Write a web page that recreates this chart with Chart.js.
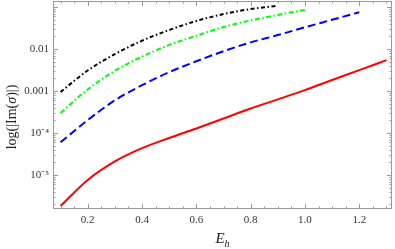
<!DOCTYPE html>
<html>
<head>
<meta charset="utf-8">
<script src="https://cdn.jsdelivr.net/npm/chart.js@4/dist/chart.umd.min.js"></script>
<style>
  html, body { margin: 0; padding: 0; background: #fff; }
  #wrap { width: 395px; height: 249px; }
</style>
</head>
<body>
<div id="wrap"><canvas id="chart"></canvas></div>
<script>
// values (E_h on x, |Im(sigma)| on a log y axis)
const eBlack = [0.1, 0.2, 0.3, 0.4, 0.5, 0.6, 0.7, 0.8, 0.9];
const imBlack = [9.55e-4, 3.09e-3, 7.59e-3, 0.01585, 0.0285, 0.0468, 0.0684, 0.0902, 0.108];

const eGreen = [0.1, 0.2, 0.3, 0.4, 0.5, 0.6, 0.7, 0.8, 0.9, 1.0];
const imGreen = [3.02e-4, 1.096e-3, 3.05e-3, 6.61e-3, 0.01259, 0.0209, 0.0335, 0.0484, 0.0653, 0.0861];

const eBlue = [0.1, 0.2, 0.3, 0.4, 0.5, 0.6, 0.7, 0.8, 0.9, 1.0, 1.1, 1.2];
const imBlue = [6.03e-5, 2.04e-4, 6.03e-4, 1.38e-3, 2.82e-3, 5.13e-3, 8.91e-3, 0.01445, 0.0216, 0.0331, 0.0501, 0.0759];

const eRed = [0.1, 0.2, 0.3, 0.4, 0.5, 0.6, 0.7, 0.8, 0.9, 1.0, 1.1, 1.2, 1.3];
const imRed = [1.83e-6, 7.66e-6, 2.12e-5, 4.39e-5, 7.66e-5, 1.29e-4, 2.23e-4, 3.85e-4, 6.35e-4, 1.057e-3, 1.84e-3, 3.15e-3, 5.48e-3];

const xTicks = [0.2, 0.4, 0.6, 0.8, 1.0, 1.2];
const yTicks = [1e-5, 1e-4, 1e-3, 1e-2];
const yTickLabels = ['10\u207B\u2075', '10\u207B\u2074', '0.001', '0.01'];

const pts = (xs, ys) => xs.map((x, i) => ({ x: x, y: ys[i] }));

// frame with inward ticks on all four sides + axis titles (Mathematica look)
const framePlugin = {
    id: 'frame',
    afterDraw(chart) {
        const ctx = chart.ctx;
        const a = chart.chartArea;
        const xs = chart.scales.x;
        const ys = chart.scales.y;
        ctx.save();
        ctx.strokeStyle = '#9a9a9a';
        ctx.lineWidth = 1;
        ctx.strokeRect(a.left + 0.5, a.top + 0.5, a.right - a.left - 1, a.bottom - a.top - 1);

        ctx.beginPath();
        // x ticks: major every 0.2, minor every 0.05
        for (let k = 2; k <= 26; k++) {
            const v = k * 0.05;
            const px = Math.round(xs.getPixelForValue(v)) + 0.5;
            if (px < a.left || px > a.right) continue;
            const len = (k % 4 === 0) ? 5 : 2.5;
            ctx.moveTo(px, a.bottom);
            ctx.lineTo(px, a.bottom - len);
            ctx.moveTo(px, a.top);
            ctx.lineTo(px, a.top + len);
        }
        // y ticks: major at decades, minor at 2..9
        for (let d = -6; d <= -1; d++) {
            for (let m = 1; m <= 9; m++) {
                const v = m * Math.pow(10, d);
                const py = Math.round(ys.getPixelForValue(v)) + 0.5;
                if (py < a.top || py > a.bottom) continue;
                const len = (m === 1) ? 5 : 2.5;
                ctx.moveTo(a.left, py);
                ctx.lineTo(a.left + len, py);
                ctx.moveTo(a.right, py);
                ctx.lineTo(a.right - len, py);
            }
        }
        ctx.stroke();

        // y title: log(|Im(σ)|) with italic sigma
        ctx.fillStyle = '#222';
        ctx.textBaseline = 'middle';
        const parts = [
            ['log(|Im(', '14px "Liberation Serif"'],
            ['\u03C3', 'italic 14px "Liberation Serif"'],
            [')|)', '14px "Liberation Serif"']
        ];
        let total = 0;
        parts.forEach(p => { ctx.font = p[1]; total += ctx.measureText(p[0]).width; });
        ctx.save();
        ctx.translate(12, 117);
        ctx.rotate(-Math.PI / 2);
        let x0 = -total / 2;
        ctx.textAlign = 'left';
        parts.forEach(p => {
            ctx.font = p[1];
            ctx.fillText(p[0], x0, 0);
            x0 += ctx.measureText(p[0]).width;
        });
        ctx.restore();

        // x title: E_h
        const cx = (a.left + a.right) / 2;
        ctx.textAlign = 'left';
        ctx.font = 'italic 15px "Liberation Serif"';
        const wE = ctx.measureText('E').width;
        ctx.font = 'italic 10px "Liberation Serif"';
        const wH = ctx.measureText('h').width;
        const sx = cx - (wE + wH) / 2;
        ctx.font = 'italic 15px "Liberation Serif"';
        ctx.fillText('E', sx, 239);
        ctx.font = 'italic 10px "Liberation Serif"';
        ctx.fillText('h', sx + wE, 244);
        ctx.restore();
    }
};

const ctx = document.getElementById('chart').getContext('2d');
const chart = new Chart(ctx, {
    type: 'line',
    data: {
        datasets: [
            {
                data: pts(eBlack, imBlack),
                borderColor: '#000000',
                borderWidth: 2,
                borderDash: [4, 2.5, 1.5, 2.5],
                pointRadius: 0,
                cubicInterpolationMode: 'monotone'
            },
            {
                data: pts(eGreen, imGreen),
                borderColor: '#00ff00',
                borderWidth: 2,
                borderDash: [5, 2.5, 1.5, 2.5],
                pointRadius: 0,
                cubicInterpolationMode: 'monotone'
            },
            {
                data: pts(eBlue, imBlue),
                borderColor: '#0000ff',
                borderWidth: 2,
                borderDash: [8, 4],
                pointRadius: 0,
                cubicInterpolationMode: 'monotone'
            },
            {
                data: pts(eRed, imRed),
                borderColor: '#ff0000',
                borderWidth: 2,
                pointRadius: 0,
                cubicInterpolationMode: 'monotone'
            }
        ]
    },
    options: {
        responsive: true,
        maintainAspectRatio: false,
        animation: false,
        layout: { padding: { top: 1, right: 3, left: 0, bottom: 0 } },
        plugins: {
            legend: { display: false },
            tooltip: { enabled: false }
        },
        scales: {
            x: {
                type: 'linear',
                min: 0.0722,
                max: 1.3204,
                grid: { display: false, drawTicks: false },
                border: { display: false },
                afterBuildTicks: (scale) => { scale.ticks = xTicks.map(v => ({ value: v })); },
                afterFit: (scale) => {
                    scale.height = 40;
                    scale.paddingLeft = 0;
                    scale.paddingRight = 0;
                },
                ticks: {
                    padding: 5,
                    color: '#333',
                    font: { family: 'Liberation Serif', size: 11 },
                    maxRotation: 0,
                    callback: (v) => v.toFixed(1)
                }
            },
            y: {
                type: 'logarithmic',
                min: 1.556e-6,
                max: 0.14,
                grid: { display: false, drawTicks: false },
                border: { display: false },
                afterBuildTicks: (scale) => { scale.ticks = yTicks.map(v => ({ value: v })); },
                afterFit: (scale) => {
                    scale.width = 53;
                    scale.paddingTop = 0;
                    scale.paddingBottom = 0;
                },
                ticks: {
                    padding: 4,
                    color: '#333',
                    font: { family: 'Liberation Serif', size: 11 },
                    callback: (v) => {
                        const i = yTicks.findIndex(t => Math.abs(t - v) / t < 1e-6);
                        return i >= 0 ? yTickLabels[i] : '';
                    }
                }
            }
        }
    },
    plugins: [framePlugin]
});
</script>
</body>
</html>
